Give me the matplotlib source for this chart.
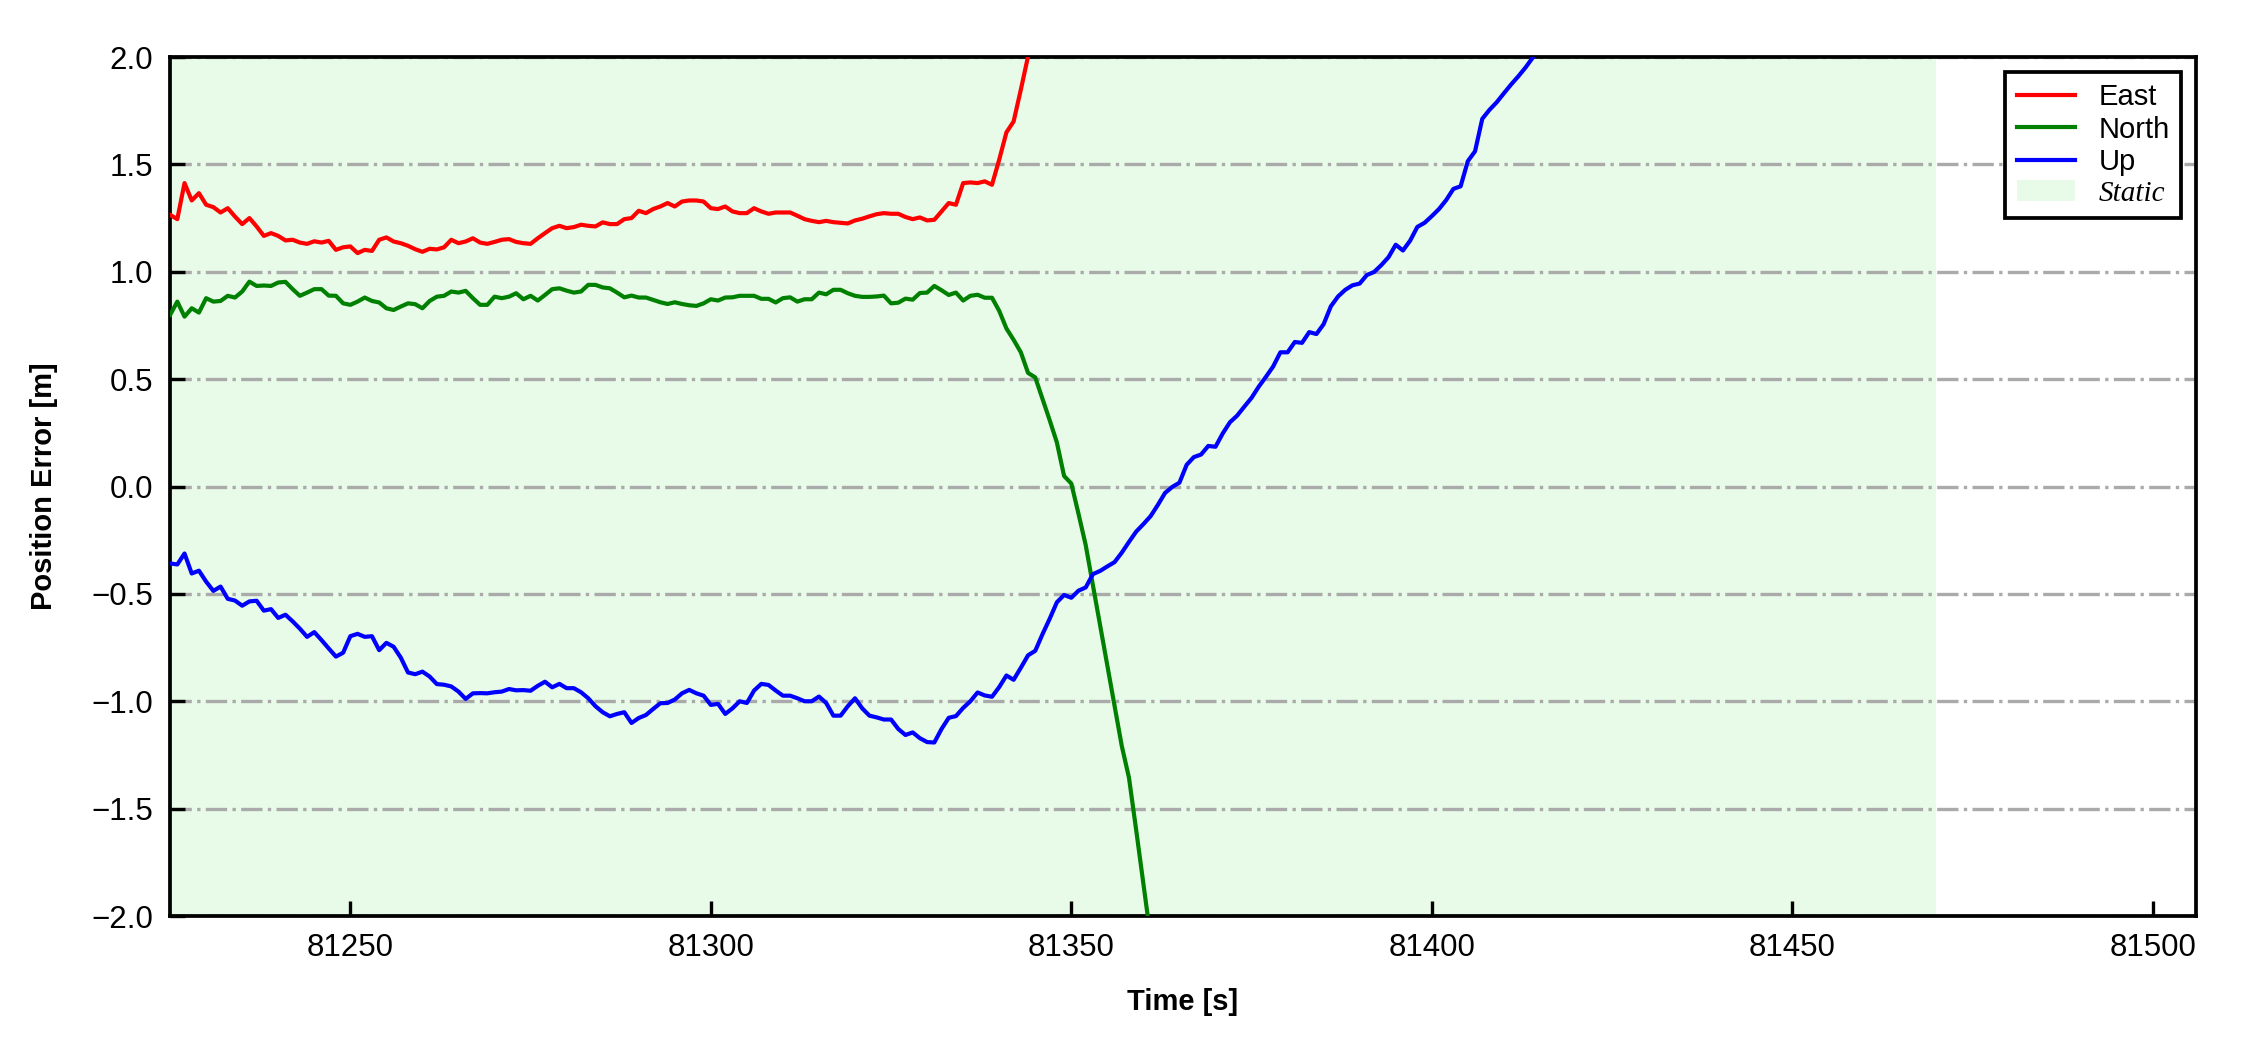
"""
Position error (E/N/U) over time during the static period
"""

import numpy as np
from matplotlib import pyplot as plt
from matplotlib.patches import Patch
from matplotlib.lines import Line2D

plt.rcParams['font.family'] = ['Liberation Sans', 'DejaVu Sans']

# epochs are 1 Hz, starting at t_start
t_start = 81225
static_end = 81470
x_range = (81225, 81506)
y_range = (-2.0, 2.0)

east = [
    1.265, 1.245, 1.413, 1.332, 1.366, 1.312, 1.301, 1.276, 1.296, 1.257,
    1.222, 1.250, 1.211, 1.167, 1.180, 1.167, 1.146, 1.149, 1.136, 1.130,
    1.142, 1.136, 1.144, 1.102, 1.114, 1.118, 1.087, 1.102, 1.097, 1.149,
    1.160, 1.141, 1.133, 1.121, 1.105, 1.093, 1.107, 1.104, 1.114, 1.149,
    1.133, 1.141, 1.156, 1.136, 1.130, 1.139, 1.149, 1.152, 1.139, 1.133,
    1.130, 1.156, 1.180, 1.203, 1.214, 1.203, 1.208, 1.219, 1.214, 1.211,
    1.230, 1.222, 1.222, 1.245, 1.250, 1.284, 1.273, 1.292, 1.304, 1.320,
    1.304, 1.327, 1.332, 1.332, 1.327, 1.296, 1.292, 1.304, 1.281, 1.273,
    1.273, 1.296, 1.281, 1.270, 1.276, 1.276, 1.276, 1.261, 1.245, 1.237,
    1.231, 1.237, 1.231, 1.228, 1.225, 1.239, 1.247, 1.258, 1.268, 1.273,
    1.270, 1.270, 1.255, 1.245, 1.253, 1.239, 1.242, 1.281, 1.320, 1.312,
    1.413, 1.416, 1.413, 1.421, 1.405, 1.522, 1.649, 1.700, 1.848, 2.003,
    2.200, 2.450,
]

north = [
    0.799, 0.861, 0.791, 0.830, 0.810, 0.877, 0.861, 0.864, 0.888, 0.880,
    0.908, 0.954, 0.934, 0.936, 0.934, 0.950, 0.953, 0.919, 0.888, 0.903,
    0.919, 0.919, 0.889, 0.888, 0.853, 0.846, 0.861, 0.880, 0.864, 0.857,
    0.830, 0.822, 0.838, 0.853, 0.849, 0.830, 0.864, 0.884, 0.888, 0.908,
    0.903, 0.911, 0.877, 0.846, 0.846, 0.884, 0.877, 0.884, 0.900, 0.872,
    0.888, 0.866, 0.892, 0.919, 0.923, 0.912, 0.903, 0.908, 0.939, 0.939,
    0.927, 0.923, 0.903, 0.881, 0.889, 0.880, 0.880, 0.869, 0.858, 0.850,
    0.858, 0.850, 0.844, 0.841, 0.853, 0.872, 0.866, 0.880, 0.881, 0.888,
    0.888, 0.888, 0.874, 0.874, 0.857, 0.877, 0.881, 0.861, 0.872, 0.872,
    0.903, 0.895, 0.916, 0.916, 0.900, 0.888, 0.883, 0.883, 0.885, 0.889,
    0.853, 0.856, 0.875, 0.870, 0.901, 0.903, 0.934, 0.914, 0.892, 0.903,
    0.866, 0.888, 0.893, 0.879, 0.879, 0.818, 0.736, 0.683, 0.625, 0.529,
    0.508, 0.408, 0.309, 0.205, 0.049, 0.014, -0.127, -0.273, -0.460, -0.647,
    -0.834, -1.021, -1.208, -1.356, -1.600, -1.850, -2.100, -2.350,
]

up = [
    -0.358, -0.363, -0.312, -0.405, -0.392, -0.443, -0.486, -0.466, -0.523, -0.531,
    -0.555, -0.535, -0.532, -0.578, -0.571, -0.612, -0.597, -0.628, -0.662, -0.700,
    -0.678, -0.715, -0.754, -0.792, -0.774, -0.697, -0.686, -0.700, -0.697, -0.762,
    -0.728, -0.746, -0.797, -0.866, -0.874, -0.862, -0.885, -0.920, -0.923, -0.931,
    -0.955, -0.989, -0.963, -0.962, -0.963, -0.958, -0.955, -0.943, -0.949, -0.948,
    -0.951, -0.928, -0.909, -0.935, -0.919, -0.939, -0.939, -0.958, -0.986, -1.023,
    -1.051, -1.070, -1.059, -1.051, -1.101, -1.078, -1.064, -1.036, -1.009, -1.008,
    -0.992, -0.963, -0.947, -0.963, -0.974, -1.017, -1.012, -1.059, -1.033, -1.000,
    -1.008, -0.950, -0.919, -0.924, -0.950, -0.974, -0.974, -0.986, -1.000, -1.000,
    -0.978, -1.008, -1.067, -1.067, -1.023, -0.986, -1.033, -1.067, -1.075, -1.085,
    -1.085, -1.129, -1.157, -1.145, -1.172, -1.190, -1.192, -1.129, -1.077, -1.069,
    -1.031, -1.000, -0.959, -0.973, -0.979, -0.934, -0.880, -0.900, -0.844, -0.786,
    -0.765, -0.688, -0.616, -0.539, -0.505, -0.518, -0.485, -0.470, -0.408, -0.393,
    -0.372, -0.352, -0.308, -0.258, -0.210, -0.175, -0.138, -0.086, -0.030, -0.002,
    0.018, 0.101, 0.137, 0.149, 0.189, 0.185, 0.247, 0.299, 0.330, 0.372,
    0.413, 0.465, 0.511, 0.559, 0.625, 0.625, 0.673, 0.669, 0.719, 0.710,
    0.756, 0.839, 0.885, 0.916, 0.937, 0.945, 0.985, 0.999, 1.031, 1.068,
    1.126, 1.099, 1.145, 1.209, 1.228, 1.259, 1.292, 1.334, 1.386, 1.398,
    1.515, 1.561, 1.712, 1.754, 1.789, 1.831, 1.872, 1.910, 1.951, 1.997,
    2.050, 2.100,
]

series = [('East', east, 'red'), ('North', north, 'green'), ('Up', up, 'blue')]
static_color = 'lightgreen'
fs = 7.5

fig = plt.figure(figsize=(7.5, 3.5), dpi=300)
ax = fig.add_axes([0.0756, 0.1276, 0.9004, 0.8181])

ax.axvspan(x_range[0], static_end, color=static_color, alpha=0.2, lw=0, zorder=0)

for name, vals, col in series:
    t = t_start + np.arange(len(vals))
    ax.plot(t, vals, color=col, lw=1.0, label=name, zorder=3)

ax.set_xlim(*x_range)
ax.set_ylim(*y_range)
ax.set_yticks(np.arange(-2.0, 2.01, 0.5))
ax.ticklabel_format(axis='x', useOffset=False, style='plain')
ax.yaxis.grid(True, linestyle='-.', color='#aaaaaa', lw=0.8, zorder=1)
ax.set_axisbelow(True)

ax.tick_params(direction='in', length=3.5, width=0.8, labelsize=fs, pad=4)
for sp in ax.spines.values():
    sp.set_linewidth(0.9)

ax.set_xlabel('Time [s]', fontsize=7, fontweight='bold', labelpad=6)
ax.set_ylabel('Position Error [m]', fontsize=7, fontweight='bold', labelpad=8)

handles = [Line2D([], [], color=c, lw=1.0) for _, _, c in series]
handles.append(Patch(facecolor=static_color, alpha=0.2, edgecolor='none'))
labels = [n for n, _, _ in series] + ['Static']
leg = ax.legend(handles, labels, loc='upper right', fontsize=7, fancybox=False,
                edgecolor='black', framealpha=1, borderpad=0.4, labelspacing=0.15,
                handlelength=2.0, handletextpad=0.8)
leg.get_frame().set_linewidth(0.9)
st = leg.get_texts()[3]
st.set_fontfamily(['Liberation Serif', 'DejaVu Serif'])
st.set_fontstyle('italic')

plt.savefig('out.png', dpi=300)
plt.close()
